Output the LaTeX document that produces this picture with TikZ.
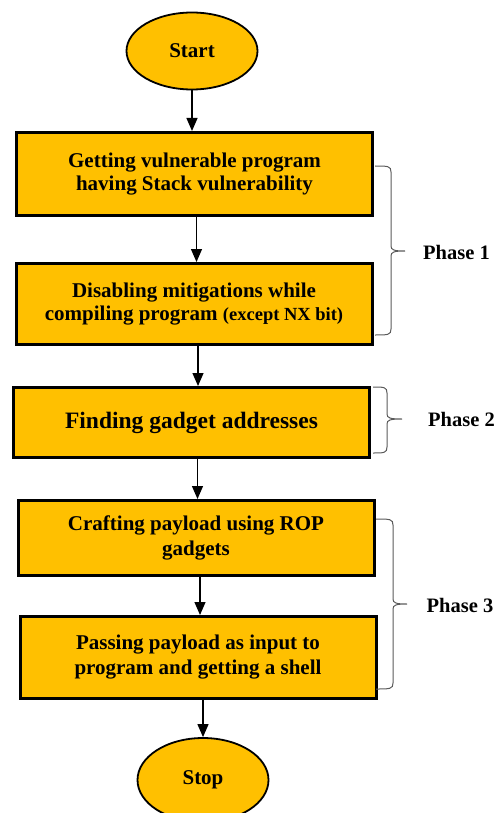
\documentclass[tikz,border=0pt]{standalone}
\usepackage{fontspec}
\setmainfont{Liberation Serif}
\usetikzlibrary{shapes.geometric,arrows.meta}
\definecolor{gold}{HTML}{FFC000}
\definecolor{bracegray}{HTML}{5A5A5A}

% curly brace on the right of a group of steps:
% #1 left end x, #2 stem x, #3 tip x, #4 top y, #5 middle y, #6 bottom y
\newcommand\phasebrace[6]{%
  \draw[bracepen] (#1,#4) .. controls (#2-3,#4) and (#2,#4) .. (#2,#4+6)
    -- (#2,#5-5) .. controls (#2,#5-1) and (#2+3,#5) .. (#3,#5)
    .. controls (#2+3,#5) and (#2,#5+1) .. (#2,#5+5)
    -- (#2,#6-6) .. controls (#2,#6) and (#2-3,#6) .. (#1,#6);}

\begin{document}
\begin{tikzpicture}[x=1pt,y=-1pt,
  every node/.style={font=\bfseries\fontsize{21}{23}\selectfont, text=black},
  stepbox/.style={draw=black, line width=3pt, fill=gold, rectangle,
    minimum width=356pt, inner sep=0pt, align=center},
  terminal/.style={draw=black, line width=1.8pt, fill=gold, ellipse,
    minimum width=131pt, minimum height=77pt, inner sep=0pt},
  flow/.style={line width=1.2pt, -{Triangle[length=13pt,width=11pt]}},
  bracepen/.style={draw=bracegray, line width=1pt},
  phase/.style={font=\bfseries\fontsize{20.5}{23}\selectfont}]
\useasboundingbox (0,0) rectangle (498,813);

\node[terminal] (start) at (192,51) {Start};

\node[stepbox, minimum height=83pt] (b1) at (194.5,174)
  {Getting vulnerable program\\having Stack vulnerability};
\node[stepbox, minimum height=81pt] (b2) at (194,304)
  {Disabling mitigations while\\compiling program {\fontsize{18.5}{23}\selectfont(except NX bit)}};
\node[stepbox, minimum height=70pt, font=\bfseries\fontsize{23.5}{26}\selectfont] (b3) at (191.5,422.5)
  {Finding gadget addresses};
\node[stepbox, minimum height=75pt, font=\bfseries\fontsize{21}{25}\selectfont] (b4) at (196,538)
  {Crafting payload using ROP\\gadgets};
\node[stepbox, minimum height=82pt, font=\bfseries\fontsize{21}{25}\selectfont] (b5) at (198,657.5)
  {Passing payload as input to\\program and getting a shell};

\node[terminal, minimum height=84pt] (stop) at (203,780) {Stop};

\draw[flow] (start.south) -- (start.south |- b1.north);
\draw[flow] ([xshift=2pt]b1.south) -- ([xshift=2pt]b1.south |- b2.north);
\draw[flow] ([xshift=4pt]b2.south) -- ([xshift=4pt]b2.south |- b3.north);
\draw[flow] ([xshift=6pt]b3.south) -- ([xshift=6pt]b3.south |- b4.north);
\draw[flow] ([xshift=4pt]b4.south) -- ([xshift=4pt]b4.south |- b5.north);
\draw[flow] ([xshift=5pt]b5.south) -- ([xshift=5pt]b5.south |- stop.north);

\phasebrace{375}{391}{405}{166}{251}{335}
\node[phase] (p1) at (456.5,252) {Phase 1};
\phasebrace{373}{387}{402}{387}{419}{453}
\node[phase] (p2) at (461.5,419) {Phase 2};
\phasebrace{376}{393}{407}{519}{604}{689}
\node[phase] (p3) at (460,605) {Phase 3};
\end{tikzpicture}
\end{document}
